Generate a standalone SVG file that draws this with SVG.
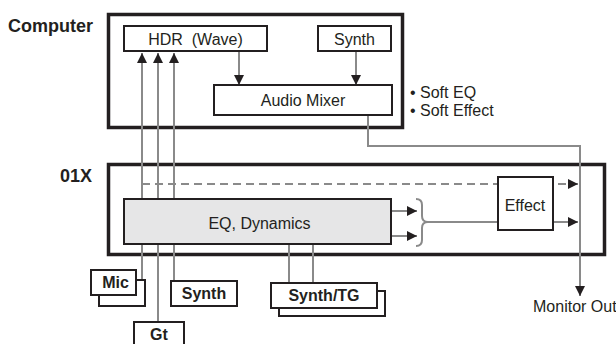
<svg xmlns="http://www.w3.org/2000/svg" width="616" height="344" viewBox="0 0 616 344">
<style>
.t{font-family:"Liberation Sans",Arial,sans-serif;font-size:16px;fill:#231f20}
.b{font-family:"Liberation Sans",Arial,sans-serif;font-size:16px;font-weight:bold;fill:#231f20}
.h{font-family:"Liberation Sans",Arial,sans-serif;font-size:18px;font-weight:bold;fill:#231f20}
.outer{fill:#fff;stroke:#231f20;stroke-width:3.5}
.box{fill:#fff;stroke:#231f20;stroke-width:2}
.ln{fill:none;stroke:#8a8a8a;stroke-width:2}
</style>
<defs>
<marker id="ah" markerUnits="userSpaceOnUse" markerWidth="10" markerHeight="10" refX="10" refY="5" orient="auto">
<path d="M0,0 L10,5 L0,10 z" fill="#231f20"/>
</marker>
</defs>
<text class="h" x="8" y="32">Computer</text>
<text class="h" x="60" y="182">01X</text>
<g id="computer"><rect class="outer" x="108.5" y="14.5" width="294" height="113"/></g>
<g id="box01x"><rect class="outer" x="108.5" y="164.5" width="496" height="90"/></g>
<g id="connectors">
<line class="ln" x1="142" y1="280" x2="142" y2="53" marker-end="url(#ah)"/>
<line class="ln" x1="158" y1="322" x2="158" y2="53" marker-end="url(#ah)"/>
<line class="ln" x1="174" y1="281" x2="174" y2="53" marker-end="url(#ah)"/>
<line class="ln" x1="239" y1="52" x2="239" y2="85" marker-end="url(#ah)"/>
<line class="ln" x1="356" y1="52" x2="356" y2="85" marker-end="url(#ah)"/>
<line class="ln" x1="142" y1="184" x2="578" y2="184" stroke-dasharray="8,5" marker-end="url(#ah)"/>
<line class="ln" x1="392" y1="211" x2="417" y2="211" marker-end="url(#ah)"/>
<line class="ln" x1="392" y1="236" x2="417" y2="236" marker-end="url(#ah)"/>
<path class="ln" d="M416,199 Q422,199 422,205 L422,216 Q422,222 428,222 Q422,222 422,228 L422,240 Q422,246 416,246"/>
<line class="ln" x1="428" y1="222" x2="498" y2="222"/>
<line class="ln" x1="553" y1="222" x2="578" y2="222" marker-end="url(#ah)"/>
<line class="ln" x1="289" y1="244" x2="289" y2="283"/>
<line class="ln" x1="313" y1="244" x2="313" y2="283"/>
<path class="ln" d="M368,115 L368,146 L580,146 L580,296" marker-end="url(#ah)"/>
</g>
<g id="hdr"><rect class="box" x="124" y="26" width="143" height="25"/><text class="t" x="195.5" y="44.5" text-anchor="middle" style="white-space:pre">HDR  (Wave)</text></g>
<g id="synth-sw"><rect class="box" x="318" y="26" width="73" height="25"/><text class="t" x="354.5" y="44.5" text-anchor="middle">Synth</text></g>
<g id="mixer"><rect class="box" x="214" y="85" width="178" height="30"/><text class="t" x="303" y="105.5" text-anchor="middle">Audio Mixer</text></g>
<g id="soft"><text class="t" x="410" y="98">• Soft EQ</text><text class="t" x="410" y="116">• Soft Effect</text></g>
<g id="eq"><rect x="124" y="199" width="267" height="45" fill="#e6e6e7" stroke="#231f20" stroke-width="2"/><text class="t" x="259.5" y="229" text-anchor="middle">EQ, Dynamics</text></g>
<g id="effect"><rect class="box" x="498" y="177" width="55" height="53"/><text class="t" x="525" y="211" text-anchor="middle">Effect</text></g>
<g id="monitor"><text class="t" x="533" y="312">Monitor Out</text></g>
<g id="mic"><rect class="box" x="99" y="280" width="46" height="26"/><rect class="box" x="91" y="270" width="45" height="25"/><text class="b" x="115.5" y="287.5" text-anchor="middle">Mic</text></g>
<g id="synth-hw"><rect class="box" x="171" y="281" width="66" height="25"/><text class="b" x="204" y="299" text-anchor="middle">Synth</text></g>
<g id="gt"><rect class="box" x="134" y="322" width="50" height="30"/><text class="b" x="159" y="339.5" text-anchor="middle">Gt</text></g>
<g id="synthtg"><rect class="box" x="279" y="291" width="106" height="25"/><rect class="box" x="271" y="283" width="106" height="25"/><text class="b" x="324" y="300.5" text-anchor="middle">Synth/TG</text></g>
</svg>
